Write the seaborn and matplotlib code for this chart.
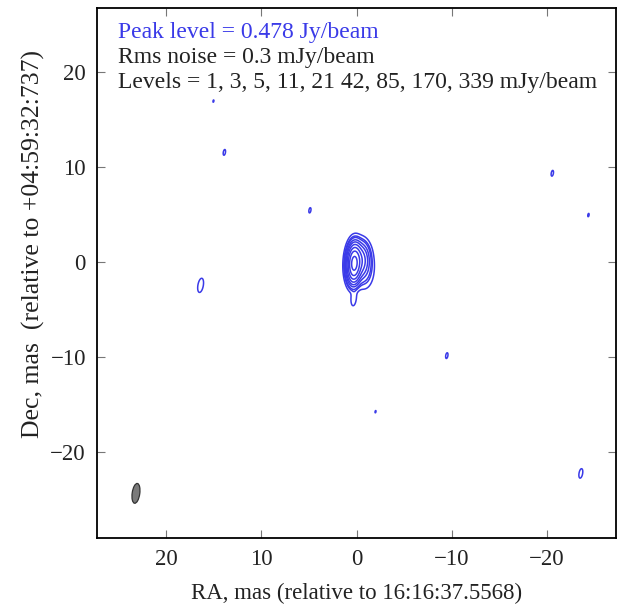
import numpy as np
import pandas as pd
import seaborn as sns
import matplotlib
matplotlib.use("Agg")
import matplotlib.pyplot as plt
from matplotlib.patches import Ellipse

# ---- data ----
# Gaussian components of the map (RA/Dec offsets in mas, peak in mJy/beam)
comp_ra = [0.25, -0.4, -0.9, 0.3, 15.05, 13.9, 4.9, 16.4, -20.6, -24.4, -9.5, -2.0, -23.6]
comp_dec = [-0.2, 0.1, -1.0, -3.9, 16.9, 11.5, 5.4, -2.5, 9.3, 4.9, -9.9, -15.8, -22.3]
comp_peak = [440, 70, 5, 2.5, 1.01, 1.06, 1.05, 1.42, 1.06, 1.02, 1.06, 1.01, 1.17]
comp_sminor = [0.34, 0.47, 0.5, 0.2, 0.34, 0.34, 0.34, 0.34, 0.34, 0.34, 0.34, 0.34, 0.34]
comp_smajor = [0.9, 0.9, 1.0, 0.55, 0.9, 0.9, 0.9, 0.9, 0.9, 0.9, 0.9, 0.9, 0.9]
comp_pa = [2, 2, 2, 5, 10, 10, 10, 10, 10, 10, 10, 10, 10]

contour_levels = [1, 3, 5, 11, 21, 42, 85, 170, 339]
xtick_vals = [20, 10, 0, -10, -20]
ytick_vals = [-20, -10, 0, 10, 20]

beam_ra, beam_dec = 23.2, -24.4
beam_minor, beam_major, beam_pa = 0.8, 2.1, 8

peak_text = "Peak level = 0.478 Jy/beam"
rms_text = "Rms noise = 0.3 mJy/beam"
levels_text = "Levels = 1, 3, 5, 11, 21 42, 85, 170, 339 mJy/beam"
xlabel = "RA, mas (relative to 16:16:37.5568)"
ylabel = "Dec, mas  (relative to +04:59:32:737)"

comps = pd.DataFrame({"ra": comp_ra, "dec": comp_dec, "peak": comp_peak,
                      "smin": comp_sminor, "smaj": comp_smajor, "pa": comp_pa})

# ---- style ----
sns.set_theme(style="ticks")
plt.rcParams["font.family"] = ["Liberation Serif", "DejaVu Serif"]
plt.rcParams["mathtext.fontset"] = "stix"

BLUE = "#3a3ae8"
DARK = "#222222"

fig = plt.figure(figsize=(6.17, 6.10), dpi=100)
ax = fig.add_axes([97 / 617, (610 - 538) / 610, 519 / 617, 530 / 610])

# build map from components
gx = np.arange(-28.0, 28.0, 0.04)
gy = np.arange(-30.0, 28.0, 0.04)
X, Y = np.meshgrid(gx, gy)
Z = np.zeros_like(X)
for _, c in comps.iterrows():
    th = np.deg2rad(c.pa)
    dx = X - c.ra
    dy = Y - c.dec
    u = dx * np.cos(th) + dy * np.sin(th)
    v = -dx * np.sin(th) + dy * np.cos(th)
    Z += c.peak * np.exp(-(u ** 2 / (2 * c.smin ** 2) + v ** 2 / (2 * c.smaj ** 2)))

ax.contour(X, Y, Z, levels=contour_levels, colors=BLUE, linewidths=1.1)

ax.add_patch(Ellipse((beam_ra, beam_dec), beam_minor, beam_major, angle=beam_pa,
                     facecolor="#7a7a7a", edgecolor="#333333", lw=0.9))

ax.set_xlim(27.3, -27.3)
ax.set_ylim(-29.1, 26.7)
ax.set_xticks(xtick_vals)
ax.set_yticks(ytick_vals)
ax.tick_params(direction="in", length=6, width=0.8, color="#777777",
               top=True, right=True, labelsize=16.5, pad=8, labelcolor=DARK)
for s in ax.spines.values():
    s.set_linewidth(1.3)
    s.set_color("black")

ax.set_xlabel(xlabel, fontsize=16.5, color=DARK, labelpad=9)
ax.set_ylabel(ylabel, fontsize=18.5, color=DARK)
ax.yaxis.set_label_coords(-0.100, 0.555)

ax.text(0.04, 0.954, peak_text, transform=ax.transAxes, fontsize=17, color=BLUE, va="center")
ax.text(0.04, 0.907, rms_text, transform=ax.transAxes, fontsize=17, color=DARK, va="center")
ax.text(0.04, 0.860, levels_text, transform=ax.transAxes, fontsize=17, color=DARK, va="center")

fig.savefig("out.png", dpi=100)
